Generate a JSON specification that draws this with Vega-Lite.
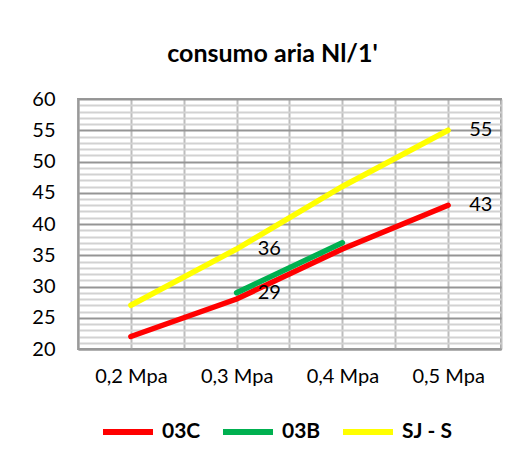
{
  "$schema": "https://vega.github.io/schema/vega-lite/v6.json",
  "autosize": {"type": "none"},
  "width": 423,
  "height": 250,
  "padding": {"left": 78, "top": 99, "right": 24, "bottom": 114},
  "background": "white",
  "title": {
    "text": "consumo aria Nl/1'",
    "font": "Lato",
    "fontSize": 25,
    "fontWeight": "bold",
    "color": "black",
    "anchor": "middle",
    "dx": -17,
    "offset": 22
  },
  "data": {
    "values": [
      {"serie": "03C", "pressione": 0.2, "consumo": 22, "etichetta": false},
      {"serie": "03C", "pressione": 0.3, "consumo": 28, "etichetta": false},
      {"serie": "03C", "pressione": 0.4, "consumo": 36, "etichetta": false},
      {"serie": "03C", "pressione": 0.5, "consumo": 43, "etichetta": true},
      {"serie": "03B", "pressione": 0.3, "consumo": 29, "etichetta": true},
      {"serie": "03B", "pressione": 0.4, "consumo": 37, "etichetta": false},
      {"serie": "SJ - S", "pressione": 0.2, "consumo": 27, "etichetta": false},
      {"serie": "SJ - S", "pressione": 0.3, "consumo": 36, "etichetta": true},
      {"serie": "SJ - S", "pressione": 0.4, "consumo": 46, "etichetta": false},
      {"serie": "SJ - S", "pressione": 0.5, "consumo": 55, "etichetta": true}
    ]
  },
  "encoding": {
    "x": {
      "field": "pressione",
      "type": "quantitative",
      "scale": {"domain": [0.15, 0.55], "nice": false, "zero": false},
      "axis": {
        "title": null,
        "values": [0.15, 0.2, 0.25, 0.3, 0.35, 0.4, 0.45, 0.5, 0.55],
        "labelExpr": "indexof(['0.20','0.30','0.40','0.50'], format(datum.value,'.2f')) >= 0 ? replace(format(datum.value,'.1f'),'.',',') + ' Mpa' : ''",
        "grid": true,
        "gridColor": "#bdbdbd",
        "gridWidth": 2,
        "ticks": false,
        "domainColor": "#9a9a9a",
        "domainWidth": 2,
        "labelFont": "Lato",
        "labelFontSize": 20,
        "labelColor": "black",
        "labelPadding": 17,
        "labelFlush": false,
        "labelOverlap": false
      }
    },
    "y": {
      "field": "consumo",
      "type": "quantitative",
      "scale": {"domain": [20, 60], "nice": false, "zero": false},
      "axis": {
        "title": null,
        "values": [20,21,22,23,24,25,26,27,28,29,30,31,32,33,34,35,36,37,38,39,40,41,42,43,44,45,46,47,48,49,50,51,52,53,54,55,56,57,58,59,60],
        "labelExpr": "datum.value % 5 === 0 ? datum.label : ''",
        "grid": true,
        "gridColor": {"condition": {"test": "datum.value % 5 === 0", "value": "#959595"}, "value": "#d2d2d2"},
        "gridWidth": 2,
        "ticks": false,
        "domainColor": "#9a9a9a",
        "domainWidth": 2,
        "labelFont": "Lato",
        "labelFontSize": 20,
        "labelColor": "black",
        "labelPadding": 23,
        "labelOverlap": false,
        "labelFlush": false
      }
    }
  },
  "layer": [
    {
      "mark": {"type": "line", "strokeWidth": 5.5, "strokeCap": "round"},
      "encoding": {
        "color": {
          "field": "serie",
          "type": "nominal",
          "scale": {"domain": ["03C", "03B", "SJ - S"], "range": ["#ff0000", "#00b050", "#ffff00"]},
          "legend": {
            "title": null,
            "orient": "none",
            "direction": "horizontal",
            "legendX": 22,
            "legendY": 305,
            "symbolType": "stroke",
            "symbolSize": 2500,
            "symbolStrokeWidth": 6,
            "labelFont": "Lato",
            "labelFontSize": 21,
            "labelFontWeight": "bold",
            "labelColor": "black",
            "labelOffset": 6,
            "columnPadding": 10
          }
        },
        "order": {"field": "pressione", "type": "quantitative"}
      }
    },
    {
      "transform": [{"filter": "datum.etichetta"}],
      "mark": {"type": "text", "align": "left", "baseline": "middle", "dx": 21, "font": "Lato", "fontSize": 20, "color": "black"},
      "encoding": {"text": {"field": "consumo", "type": "quantitative"}}
    }
  ],
  "config": {
    "view": {"stroke": "#9a9a9a", "strokeWidth": 2}
  }
}
